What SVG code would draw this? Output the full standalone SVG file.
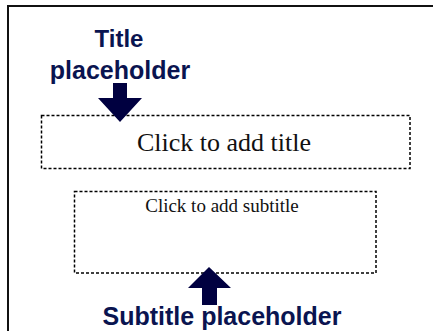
<svg xmlns="http://www.w3.org/2000/svg" width="433" height="331" viewBox="0 0 433 331">
  <style>
    .frame { fill: none; stroke: #111; stroke-width: 2; }
    .ph { fill: none; stroke: #000; stroke-width: 1.5; stroke-dasharray: 3 2; }
    .ph-text { font-family: "Liberation Serif", "Times New Roman", serif; fill: #111; text-anchor: middle; }
    .label { font-family: "Liberation Sans", Arial, sans-serif; font-weight: bold; fill: #0a1450; text-anchor: middle; }
    .arrow { fill: #000040; }
  </style>
  <rect width="433" height="331" fill="#fff"/>
  <!-- slide frame: left and top edges -->
  <path class="frame" d="M8,331 V6 H433"/>

  <g id="title-placeholder">
    <rect class="ph" x="41.5" y="115.5" width="368.5" height="53"/>
    <text class="ph-text" x="224" y="151" font-size="26">Click to add title</text>
  </g>

  <g id="subtitle-placeholder">
    <rect class="ph" x="74.5" y="191.5" width="301.5" height="81.5"/>
    <text class="ph-text" x="222" y="212" font-size="19">Click to add subtitle</text>
  </g>

  <g id="title-label">
    <text class="label" x="119" y="47" font-size="24">Title</text>
    <text class="label" x="120" y="79" font-size="25">placeholder</text>
  </g>

  <g id="subtitle-label">
    <text class="label" x="222" y="325" font-size="25">Subtitle placeholder</text>
  </g>

  <g id="connectors">
    <polygon class="arrow" points="113,83 127,83 127,98 142,98 120,122 98,98 113,98"/>
    <polygon class="arrow" points="209,267 231,288 217,288 217,305 202,305 202,288 188,288"/>
  </g>
</svg>
